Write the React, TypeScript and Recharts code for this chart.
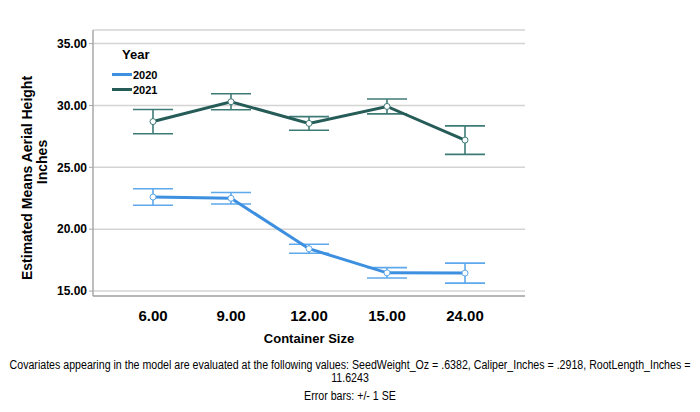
import { LineChart, Line, XAxis, YAxis, CartesianGrid, ErrorBar } from 'recharts';

const sizes = ['6.00', '9.00', '12.00', '15.00', '24.00'];
const mean2020 = [22.6, 22.5, 18.42, 16.47, 16.45];
const se2020 = [0.67, 0.46, 0.36, 0.42, 0.81];
const mean2021 = [28.7, 30.3, 28.55, 29.92, 27.2];
const se2021 = [0.98, 0.65, 0.55, 0.6, 1.15];
const yTicks = [15, 20, 25, 30, 35];
const years = [
    { name: '2020', color: '#3d8fe0' },
    { name: '2021', color: '#265c58' }
];

const BLUE = '#3d8fe0';
const BLUE_ERR = '#5ea8ec';
const TEAL = '#265c58';
const TEAL_ERR = '#3f7b76';
const FONT = '"Liberation Sans", Arial, sans-serif';

const data = sizes.map((size, i) => ({
    size,
    y2020: mean2020[i],
    e2020: se2020[i],
    y2021: mean2021[i],
    e2021: se2021[i]
}));

const YLabel = () => (
    <text transform="translate(32,178) rotate(-90)" textAnchor="middle" fontFamily={FONT} fontWeight={700} fontSize={14} fill="#000">
        <tspan x={0} dy={0}>Estimated Means Aerial Height</tspan>
        <tspan x={16} dy={15}>Inches</tspan>
    </text>
);

const footStyle = {
    position: 'absolute' as const,
    left: -50,
    width: 800,
    textAlign: 'center' as const,
    fontFamily: FONT,
    fontSize: 12,
    lineHeight: '13px',
    whiteSpace: 'nowrap' as const,
    transform: 'scaleX(0.885)',
    transformOrigin: '400px 0'
};

export default function App() {
    return (
        <div style={{ position: 'absolute', left: 0, top: 0, width: 700, height: 412, background: '#fff', overflow: 'hidden' }}>
            <LineChart
                width={700}
                height={412}
                data={data}
                margin={{ top: 30, right: 175, left: 33, bottom: 86 }}
            >
                {/*Horizontal grid only*/}
                <CartesianGrid vertical={false} stroke="#d4d4d4" strokeWidth={1.5} />

                <XAxis
                    dataKey="size"
                    padding={{ left: 60, right: 60 }}
                    height={30}
                    tickLine={false}
                    axisLine={{ stroke: '#a8a8a8', strokeWidth: 1.5 }}
                    tick={{ fontSize: 15, fontWeight: 700, fill: '#000', fontFamily: FONT }}
                    tickMargin={8}
                />

                <YAxis
                    type="number"
                    domain={[14.6, 36.1]}
                    ticks={yTicks}
                    width={60}
                    tickFormatter={(v: number) => v.toFixed(2)}
                    tickLine={{ stroke: '#a8a8a8' }}
                    tickSize={4}
                    axisLine={{ stroke: '#a8a8a8', strokeWidth: 1.5 }}
                    tick={{ fontSize: 12, fontWeight: 700, fill: '#000', fontFamily: FONT }}
                    label={<YLabel />}
                />

                <Line
                    dataKey="y2020"
                    name="2020"
                    stroke={BLUE}
                    strokeWidth={3}
                    dot={{ r: 3, fill: '#fff', stroke: BLUE_ERR, strokeWidth: 1 }}
                    isAnimationActive={false}
                >
                    <ErrorBar dataKey="e2020" width={20} stroke={BLUE_ERR} strokeWidth={1.6} direction="y" />
                </Line>

                <Line
                    dataKey="y2021"
                    name="2021"
                    stroke={TEAL}
                    strokeWidth={3}
                    dot={{ r: 3, fill: '#fff', stroke: TEAL_ERR, strokeWidth: 1 }}
                    isAnimationActive={false}
                >
                    <ErrorBar dataKey="e2021" width={20} stroke={TEAL_ERR} strokeWidth={1.6} direction="y" />
                </Line>
            </LineChart>

            {/*Year legend*/}
            <div style={{ position: 'absolute', left: 112, top: 47, fontFamily: FONT, fontWeight: 700, color: '#000' }}>
                <div style={{ fontSize: 13, marginLeft: 10, height: 20 }}>Year</div>
                {years.map((item) => (
                    <div key={item.name} style={{ display: 'flex', alignItems: 'center', fontSize: 11, height: 15 }}>
                        <span style={{ display: 'inline-block', width: 20, height: 3, background: item.color, marginRight: 1 }} />
                        {item.name}
                    </div>
                ))}
            </div>

            <div style={{ position: 'absolute', left: 0, top: 331, width: 618, textAlign: 'center', fontFamily: FONT, fontWeight: 700, fontSize: 13 }}>
                Container Size
            </div>

            <div style={{ ...footStyle, top: 359 }}>
                Covariates appearing in the model are evaluated at the following values: SeedWeight_Oz = .6382, Caliper_Inches = .2918, RootLength_Inches =
                <br />
                11.6243
            </div>

            <div style={{ ...footStyle, top: 390 }}>
                Error bars: +/- 1 SE
            </div>
        </div>
    );
}
